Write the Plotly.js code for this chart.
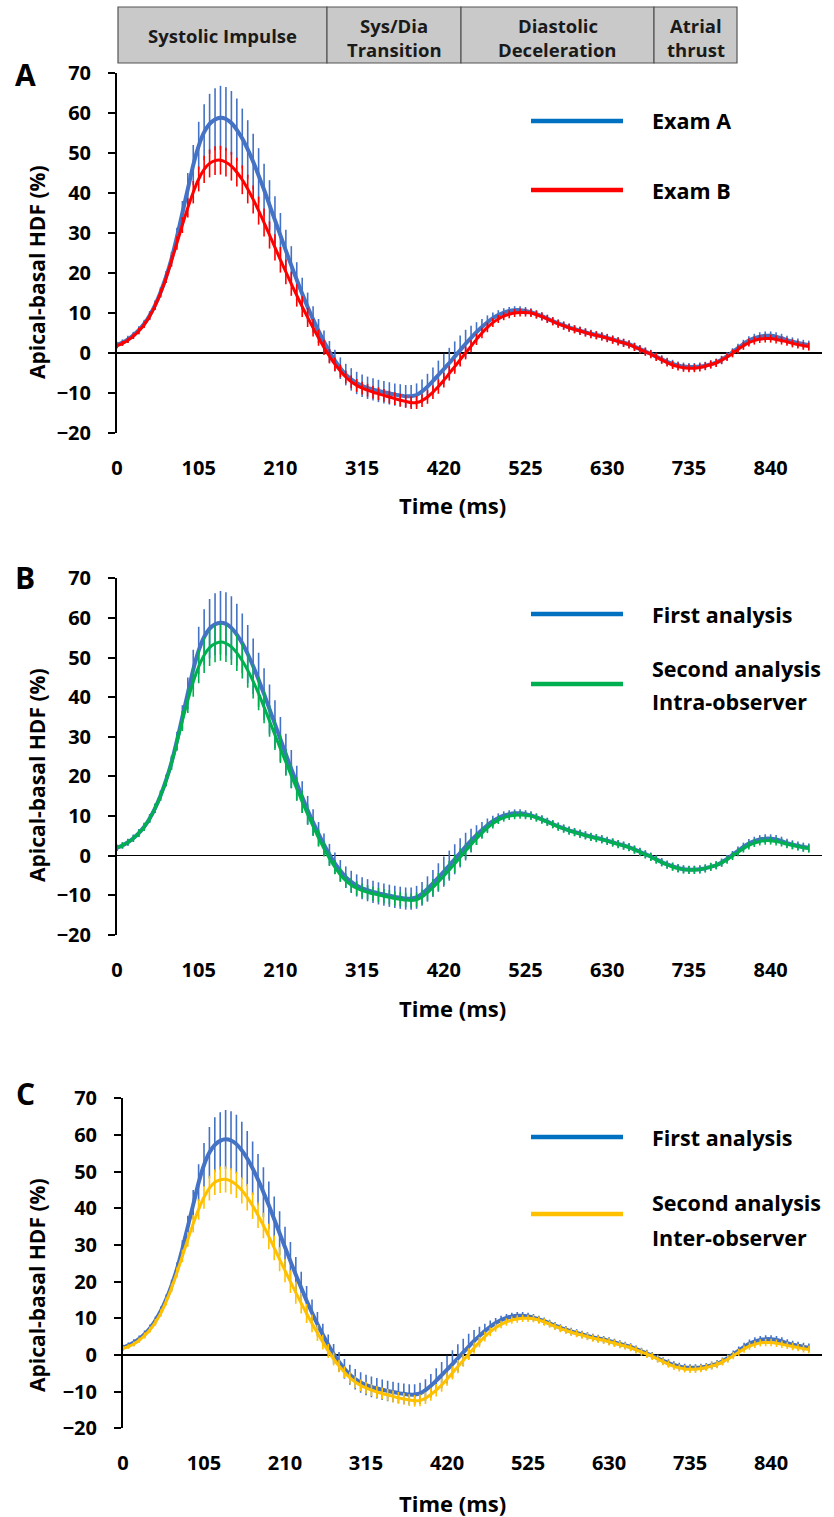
<!DOCTYPE html>
<html>
<head>
<meta charset="utf-8">
<script src="https://cdn.plot.ly/plotly-3.0.1.min.js"></script>
<style>html,body{margin:0;padding:0;background:#fff;}#chart{width:834px;height:1517px;}</style>
</head>
<body>
<div id="chart"></div>
<script>
// ---- data (time in ms, HDF in %) ----
const timeMs = [0,7,14,21,28,35,42,49,56,63,70,77,84,91,98,105,112,119,126,133,140,147,154,161,168,175,182,189,196,203,210,217,224,231,238,245,252,259,266,273,280,287,294,301,308,315,322,329,336,343,350,357,364,371,378,385,392,399,406,413,420,427,434,441,448,455,462,469,476,483,490,497,504,511,518,525,532,539,546,553,560,567,574,581,588,595,602,609,616,623,630,637,644,651,658,665,672,679,686,693,700,707,714,721,728,735,742,749,756,763,770,777,784,791,798,805,812,819,826,833,840,847,854,861,868,875,882,889];

const xTickVals = [0,105,210,315,420,525,630,735,840];
const yTickVals = [-20,-10,0,10,20,30,40,50,60,70];

// First analysis / Exam A (blue)
const firstMean = [2.0,2.6,3.4,4.4,5.7,7.3,9.4,12.0,15.2,19.0,23.5,29.0,35.0,41.0,47.0,51.8,55.2,57.3,58.4,58.8,58.5,57.5,55.8,53.6,50.9,47.8,44.4,40.8,37.0,33.2,29.4,25.6,21.9,18.3,14.8,11.5,8.4,5.5,2.8,0.3,-1.9,-3.8,-5.4,-6.6,-7.5,-8.2,-8.7,-9.1,-9.5,-9.8,-10.1,-10.4,-10.6,-10.8,-10.8,-10.5,-9.6,-8.4,-7.0,-5.5,-4.0,-2.5,-0.9,0.7,2.3,3.8,5.2,6.5,7.7,8.7,9.5,10.1,10.5,10.7,10.7,10.5,10.2,9.7,9.2,8.6,8.0,7.4,6.9,6.4,6.0,5.6,5.2,4.8,4.5,4.2,3.8,3.4,3.0,2.6,2.2,1.6,1.0,0.4,-0.2,-0.9,-1.6,-2.2,-2.7,-3.1,-3.4,-3.5,-3.5,-3.4,-3.2,-2.8,-2.4,-1.7,-0.8,0.2,1.2,2.2,3.1,3.7,4.1,4.3,4.3,4.1,3.7,3.2,2.8,2.5,2.2,2.0];
const firstSD = [0.8,0.8,0.9,0.9,1.0,1.0,1.1,1.2,1.3,1.5,1.8,2.3,3.0,4.0,5.0,6.0,7.0,7.5,7.8,8.0,8.0,8.0,7.8,7.5,7.3,7.0,6.8,6.5,6.2,6.0,5.6,5.2,4.8,4.4,4.0,3.6,3.3,3.0,2.8,2.7,2.7,2.7,2.7,2.8,2.8,2.8,2.8,2.8,2.8,2.8,2.8,2.8,2.8,2.8,2.8,2.9,3.0,3.2,3.4,3.6,3.8,3.8,3.8,3.7,3.5,3.0,2.5,2.0,1.7,1.4,1.2,1.1,1.0,1.0,1.0,1.0,1.0,1.0,1.0,1.0,1.0,1.0,1.0,1.0,1.0,1.0,1.0,1.0,1.0,1.0,1.0,1.0,1.0,1.0,1.0,1.0,1.0,1.0,1.0,1.0,1.0,1.0,1.0,1.0,1.0,1.0,1.0,1.0,1.0,1.0,1.0,1.0,1.0,1.0,1.1,1.1,1.1,1.1,1.1,1.1,1.1,1.1,1.1,1.1,1.1,1.1,1.1,1.1];

// Exam B (red)
const examBMean = [1.8,2.4,3.2,4.2,5.5,7.1,9.2,11.8,15.0,18.7,23.0,27.5,32.0,36.3,40.2,43.5,45.9,47.4,48.1,48.2,47.7,46.7,45.2,43.3,41.0,38.4,35.6,32.6,29.5,26.4,23.3,20.3,17.3,14.4,11.6,8.9,6.3,3.8,1.4,-0.8,-2.8,-4.5,-6.0,-7.2,-8.1,-8.8,-9.3,-9.8,-10.2,-10.6,-11.0,-11.4,-11.8,-12.1,-12.4,-12.4,-11.9,-11.0,-9.8,-8.4,-6.8,-5.1,-3.4,-1.7,0.0,1.7,3.4,5.0,6.4,7.6,8.5,9.2,9.7,10.0,10.1,10.1,10.0,9.6,9.1,8.5,7.9,7.3,6.8,6.3,5.9,5.5,5.1,4.7,4.4,4.1,3.7,3.3,2.9,2.5,2.1,1.5,0.9,0.3,-0.3,-1.0,-1.7,-2.4,-3.0,-3.4,-3.7,-3.8,-3.8,-3.6,-3.3,-2.9,-2.5,-1.8,-1.0,-0.1,0.9,1.8,2.6,3.1,3.5,3.6,3.6,3.4,3.1,2.8,2.4,2.1,1.8,1.6];
const examBSD = [0.6,0.6,0.7,0.7,0.8,0.8,0.9,1.0,1.1,1.2,1.4,1.7,2.0,2.4,2.8,3.1,3.4,3.5,3.6,3.6,3.6,3.6,3.6,3.6,3.6,3.5,3.5,3.5,3.4,3.3,3.2,3.1,3.0,2.8,2.6,2.4,2.2,2.0,1.9,1.8,1.7,1.6,1.6,1.6,1.6,1.6,1.6,1.6,1.6,1.6,1.6,1.6,1.6,1.6,1.6,1.6,1.6,1.7,1.7,1.8,1.8,1.8,1.8,1.7,1.6,1.5,1.4,1.3,1.2,1.1,1.0,1.0,1.0,1.0,1.0,1.0,1.0,1.0,1.0,1.0,1.0,1.0,1.0,1.0,1.0,1.0,1.0,1.0,1.0,1.0,1.0,1.0,1.0,1.0,1.0,1.0,1.0,1.0,1.0,1.0,1.0,1.0,1.0,1.0,1.0,1.0,1.0,1.0,1.0,1.0,1.0,1.0,1.0,1.0,1.0,1.0,1.0,1.0,1.0,1.0,1.0,1.0,1.0,1.0,1.0,1.0,1.0,1.0];

// Second analysis, intra-observer (green)
const intraMean = [2.0,2.6,3.4,4.4,5.7,7.3,9.4,12.0,15.1,18.9,23.3,28.5,34.0,39.2,43.9,47.7,50.6,52.5,53.5,53.9,53.6,52.7,51.2,49.2,46.8,44.0,40.9,37.5,34.0,30.5,27.0,23.6,20.2,16.9,13.6,10.4,7.4,4.5,1.8,-0.7,-2.9,-4.8,-6.3,-7.4,-8.2,-8.8,-9.2,-9.6,-9.9,-10.2,-10.5,-10.8,-11.0,-11.2,-11.3,-11.1,-10.4,-9.3,-8.0,-6.6,-5.1,-3.6,-2.0,-0.4,1.2,2.8,4.3,5.7,7.0,8.1,9.0,9.6,10.0,10.2,10.3,10.2,10.0,9.6,9.1,8.5,7.9,7.3,6.8,6.3,5.9,5.5,5.1,4.7,4.4,4.1,3.7,3.3,2.9,2.5,2.1,1.5,0.9,0.3,-0.3,-1.0,-1.7,-2.3,-2.8,-3.2,-3.5,-3.6,-3.6,-3.5,-3.2,-2.8,-2.4,-1.8,-1.0,-0.1,0.9,1.8,2.6,3.2,3.6,3.8,3.8,3.6,3.3,2.9,2.6,2.3,2.0,1.8];
const intraSD = [0.8,0.8,0.8,0.9,0.9,1.0,1.0,1.1,1.2,1.3,1.6,2.0,2.5,3.2,3.8,4.2,4.5,4.6,4.7,4.7,4.7,4.6,4.6,4.5,4.4,4.3,4.2,4.1,4.0,3.8,3.6,3.4,3.2,3.0,2.8,2.6,2.4,2.2,2.0,1.9,1.8,1.8,1.8,1.8,1.8,1.8,1.8,1.8,1.8,1.8,1.8,1.8,1.8,1.8,1.8,1.8,1.9,2.0,2.1,2.2,2.3,2.3,2.3,2.2,2.0,1.8,1.6,1.4,1.3,1.2,1.0,1.0,1.0,1.0,1.0,1.0,1.0,1.0,1.0,1.0,1.0,1.0,1.0,1.0,1.0,1.0,1.0,1.0,1.0,1.0,1.0,1.0,1.0,1.0,1.0,1.0,1.0,1.0,1.0,1.0,1.0,1.0,1.0,1.0,1.0,1.0,1.0,1.0,1.0,1.0,1.0,1.0,1.0,1.0,1.0,1.0,1.0,1.0,1.0,1.0,1.0,1.0,1.0,1.0,1.0,1.0,1.0,1.0];

// Second analysis, inter-observer (yellow)
const interMean = [1.8,2.3,3.0,4.0,5.3,6.9,8.9,11.4,14.6,18.3,22.5,27.0,31.5,35.8,39.7,43.0,45.5,47.1,47.8,47.9,47.4,46.4,44.9,43.0,40.7,38.1,35.3,32.3,29.2,26.1,23.0,20.0,17.0,14.1,11.3,8.6,6.0,3.5,1.1,-1.1,-3.0,-4.7,-6.2,-7.4,-8.3,-9.0,-9.6,-10.1,-10.5,-10.9,-11.3,-11.7,-12.0,-12.3,-12.5,-12.4,-11.8,-10.8,-9.6,-8.2,-6.6,-4.9,-3.2,-1.5,0.2,1.9,3.5,5.0,6.3,7.4,8.3,9.0,9.5,9.8,10.0,10.0,9.9,9.5,9.0,8.4,7.8,7.2,6.7,6.2,5.8,5.4,5.0,4.6,4.3,4.0,3.6,3.2,2.8,2.4,2.0,1.4,0.8,0.2,-0.4,-1.1,-1.8,-2.5,-3.1,-3.5,-3.8,-3.9,-3.9,-3.7,-3.4,-3.0,-2.6,-1.9,-1.1,-0.2,0.7,1.6,2.4,2.9,3.3,3.4,3.4,3.2,2.9,2.6,2.3,2.0,1.7,1.5];
const interSD = [0.6,0.6,0.7,0.7,0.8,0.8,0.9,1.0,1.1,1.2,1.4,1.7,2.0,2.4,2.8,3.1,3.4,3.5,3.6,3.6,3.6,3.6,3.6,3.6,3.6,3.5,3.5,3.5,3.4,3.3,3.2,3.1,3.0,2.8,2.6,2.4,2.2,2.0,1.9,1.8,1.7,1.6,1.6,1.6,1.6,1.6,1.6,1.6,1.6,1.6,1.6,1.6,1.6,1.6,1.6,1.6,1.6,1.7,1.7,1.8,1.8,1.8,1.8,1.7,1.6,1.5,1.4,1.3,1.2,1.1,1.0,1.0,1.0,1.0,1.0,1.0,1.0,1.0,1.0,1.0,1.0,1.0,1.0,1.0,1.0,1.0,1.0,1.0,1.0,1.0,1.0,1.0,1.0,1.0,1.0,1.0,1.0,1.0,1.0,1.0,1.0,1.0,1.0,1.0,1.0,1.0,1.0,1.0,1.0,1.0,1.0,1.0,1.0,1.0,1.0,1.0,1.0,1.0,1.0,1.0,1.0,1.0,1.0,1.0,1.0,1.0,1.0,1.0];

const phaseLabels = [["Systolic Impulse"],["Sys/Dia","Transition"],["Diastolic","Deceleration"],["Atrial","thrust"]];
const panelLetters = ["A","B","C"];
const legendTexts = [[["Exam A"],["Exam B"]],[["First analysis"],["Second analysis","Intra-observer"]],[["First analysis"],["Second analysis","Inter-observer"]]];
const yTitle = "Apical-basal HDF (%)";
const xTitle = "Time (ms)";

// ---- styling / layout ----
const W = 834, H = 1517;
const FONT = "'Open Sans', Lato, sans-serif";
const BLUE = "#4472C4", RED = "#FF0000", GREEN = "#00B050", YELLOW = "#FFC000";
const LEG_BLUE = "#0070C0";
const px = v => v / W;
const py = v => 1 - v / H;

const panels = [
  {top: 73, bottom: 433, left: 117, right: 822, second: [examBMean, examBSD, RED], legY: [121, 190], legOff: [-17, 17], legColor: RED, xtitle: 505, ytitleY: 272, letterY: 74},
  {top: 578.3, bottom: 935, left: 117, right: 822, second: [intraMean, intraSD, GREEN], legY: [614, 684], legOff: [-16, 17], legColor: GREEN, xtitle: 1008, ytitleY: 775, letterY: 577},
  {top: 1098.3, bottom: 1428.3, left: 123, right: 822, second: [interMean, interSD, YELLOW], legY: [1137, 1214], legOff: [-12, 23], legColor: YELLOW, xtitle: 1503, ytitleY: 1285, letterY: 1093}
];

const traces = [];
const layout = {
  width: W, height: H, margin: {l: 0, r: 0, t: 0, b: 0},
  paper_bgcolor: "#fff", plot_bgcolor: "rgba(0,0,0,0)",
  showlegend: false, font: {family: FONT, color: "#000"},
  annotations: [], shapes: []
};

panels.forEach((p, i) => {
  const n = i === 0 ? "" : String(i + 1);
  const xa = "x" + n, ya = "y" + n;
  traces.push({
    x: timeMs, y: firstMean, xaxis: xa, yaxis: ya, type: "scatter", mode: "lines",
    line: {color: BLUE, width: 4, shape: "spline", smoothing: 0.6},
    error_y: {type: "data", array: firstSD, visible: true, width: 0, thickness: 1.6, color: BLUE},
    hoverinfo: "skip"
  });
  traces.push({
    x: timeMs, y: p.second[0], xaxis: xa, yaxis: ya, type: "scatter", mode: "lines",
    line: {color: p.second[2], width: 3, shape: "spline", smoothing: 0.6},
    error_y: {type: "data", array: p.second[1], visible: true, width: 0, thickness: 1.6, color: p.second[2]},
    hoverinfo: "skip"
  });
  layout["xaxis" + n] = {
    domain: [px(p.left), px(p.right)], anchor: ya, range: [0, 906],
    tickmode: "array", tickvals: xTickVals, ticks: "", showline: false, showgrid: false, zeroline: false,
    tickfont: {family: FONT, size: 20, color: "#000", weight: "bold"},
    ticklabelstandoff: 21
  };
  layout["yaxis" + n] = {
    domain: [py(p.bottom), py(p.top)], anchor: xa, range: [-20, 70],
    tickmode: "array", tickvals: yTickVals, ticks: "outside", ticklen: 7, tickwidth: 2, tickcolor: "#000",
    showline: true, linecolor: "#000", linewidth: 2, showgrid: false,
    zeroline: true, zerolinecolor: "#000", zerolinewidth: 1.5,
    tickfont: {family: FONT, size: 20, color: "#000", weight: "bold"},
    ticklabelstandoff: 13
  };
  // panel letter
  layout.annotations.push({xref: "paper", yref: "paper", x: px(25), y: py(p.letterY), text: "<b>" + panelLetters[i] + "</b>",
    showarrow: false, xanchor: "center", yanchor: "middle", font: {family: FONT, size: 30, color: "#000"}});
  // y title
  layout.annotations.push({xref: "paper", yref: "paper", x: px(37), y: py(p.ytitleY), text: "<b>" + yTitle + "</b>",
    textangle: -90, showarrow: false, xanchor: "center", yanchor: "middle", font: {family: FONT, size: 21, color: "#000"}});
  // x title
  layout.annotations.push({xref: "paper", yref: "paper", x: px(453), y: py(p.xtitle), text: "<b>" + xTitle + "</b>",
    showarrow: false, xanchor: "center", yanchor: "middle", font: {family: FONT, size: 22, color: "#000"}});
  // legend samples
  const legColors = [LEG_BLUE, p.legColor];
  legColors.forEach((c, k) => {
    layout.shapes.push({type: "line", xref: "paper", yref: "paper", x0: px(531), x1: px(623), y0: py(p.legY[k]), y1: py(p.legY[k]),
      line: {color: c, width: 4.5}});
    const lines = legendTexts[i][k];
    lines.forEach((t, j) => {
      const yc = lines.length === 1 ? p.legY[k] : p.legY[k] + p.legOff[j];
      layout.annotations.push({xref: "paper", yref: "paper", x: px(650), y: py(yc), text: "<b>" + t + "</b>",
        showarrow: false, xanchor: "left", yanchor: "middle", font: {family: FONT, size: 21.5, color: "#000"}});
    });
  });
});

// header boxes
const edges = [118, 327, 461, 654, 737];
phaseLabels.forEach((lbl, k) => {
  layout.shapes.push({type: "rect", xref: "paper", yref: "paper", x0: px(edges[k]), x1: px(edges[k + 1]), y0: py(63), y1: py(7),
    fillcolor: "#C9C9C9", line: {color: "#555", width: 1.2}, layer: "below"});
  const cx = (edges[k] + edges[k + 1]) / 2;
  lbl.forEach((t, j) => {
    const yc = lbl.length === 1 ? 36 : 25 + j * 24;
    layout.annotations.push({xref: "paper", yref: "paper", x: px(cx), y: py(yc), text: "<b>" + t + "</b>",
      showarrow: false, xanchor: "center", yanchor: "middle", font: {family: FONT, size: 18.5, color: "#1a1a1a"}});
  });
});

Plotly.newPlot("chart", traces, layout, {staticPlot: true, displayModeBar: false});
</script>
</body>
</html>
